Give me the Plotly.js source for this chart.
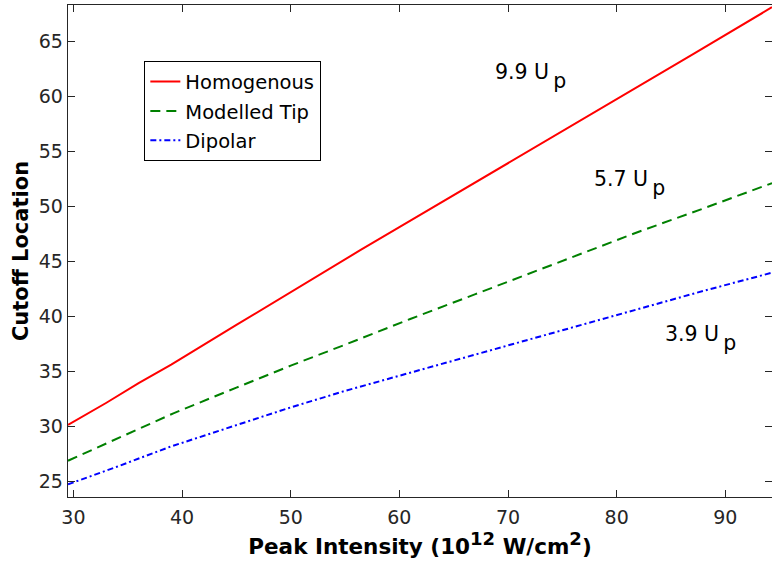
<!DOCTYPE html>
<html>
<head>
<meta charset="utf-8">
<script src="https://cdn.plot.ly/plotly-3.0.1.min.js"></script>
<style>html,body{margin:0;padding:0;background:#fff;}#chart{width:772px;height:567px;}</style>
</head>
<body>
<div id="chart"></div>
<script>
// Data
const homX = [29.5, 33, 36, 39, 45, 50, 56.4, 60, 67.4, 75, 80, 87, 94.3];
const homY = [30.1, 32.1, 33.9, 35.6, 39.2, 42.2, 46.0, 48.1, 52.4, 56.8, 59.7, 63.8, 68.1];
const tipX = [29.5, 35, 39.2, 45, 50, 55, 61, 67, 72, 77, 82.1, 88, 94.3];
const tipY = [26.85, 29.3, 31.16, 33.5, 35.5, 37.4, 39.74, 42.0, 43.9, 45.8, 47.7, 49.8, 52.1];
const dipX = [29.5, 34, 38.9, 45, 50, 55, 61, 67, 72, 77, 82.1, 88, 94.3];
const dipY = [24.7, 26.3, 28.12, 30.1, 31.7, 33.2, 34.85, 36.5, 37.9, 39.3, 40.65, 42.3, 43.95];
const seriesNames = ["Homogenous", "Modelled Tip", "Dipolar"];
const labelMain = ["9.9 U", "5.7 U", "3.9 U"];
const labelSub = ["p", "p", "p"];
const labelX = [68.6, 77.7, 84.3];
const labelY = [61.8, 52.1, 38.0];
const xTicks = [30, 40, 50, 60, 70, 80, 90];
const yTicks = [25, 30, 35, 40, 45, 50, 55, 60, 65];

const FONT = "DejaVu Sans, sans-serif";
const AX = "#262626";

const traces = [
  {x: homX, y: homY, name: seriesNames[0], mode: "lines", legendgroup: "a",
   line: {color: "#ff0000", width: 2}},
  {x: tipX, y: tipY, name: seriesNames[1], mode: "lines", legendgroup: "b",
   line: {color: "#008000", width: 2, dash: "10px,6px"}},
  {x: dipX, y: dipY, name: seriesNames[2], mode: "lines", legendgroup: "c",
   line: {color: "#0000ff", width: 2, dash: "6px,3px,2px,3px"}}
];

const annotations = labelMain.map((t, i) => ({
  x: labelX[i], y: labelY[i], xref: "x", yref: "y",
  text: t + "<span style=\"baseline-shift:-0.42em\">&#8201;" + labelSub[i] + "</span>",
  showarrow: false,
  xanchor: "left", yanchor: "middle", font: {family: FONT, size: 20.5, color: "#000"}
}));

const axisCommon = {
  showline: true, linecolor: AX, linewidth: 1.3, mirror: "ticks",
  ticks: "inside", ticklen: 7, tickwidth: 1, tickcolor: AX,
  showgrid: false, zeroline: false,
  tickfont: {family: FONT, size: 19, color: AX}
};

const layout = {
  width: 772, height: 567,
  margin: {l: 68, r: 0, t: 5, b: 70},
  paper_bgcolor: "#fff", plot_bgcolor: "#fff",
  font: {family: FONT},
  showlegend: true,
  legend: {
    x: 0.108, y: 0.886, xanchor: "left", yanchor: "top",
    bordercolor: "#000", borderwidth: 1.3, bgcolor: "#fff",
    font: {family: FONT, size: 19.5, color: "#000"},
    itemwidth: 30, traceorder: "grouped", tracegroupgap: 1
  },
  xaxis: Object.assign({}, axisCommon, {
    range: [29.5, 94.3], tickvals: xTicks, ticktext: xTicks.map(String),
    ticklabelstandoff: 3,
    title: {text: "<b>Peak Intensity (10<sup><span style=\"font-size:18px\">12</span></sup> W/cm<sup><span style=\"font-size:18px\">2</span></sup>)</b>", standoff: 10,
            font: {family: FONT, size: 21.5, color: "#000"}}
  }),
  yaxis: Object.assign({}, axisCommon, {
    range: [23.55, 68.3], tickvals: yTicks, ticktext: yTicks.map(String),
    ticklabelstandoff: 0,
    title: {text: "<b>Cutoff Location</b>", standoff: 4,
            font: {family: FONT, size: 21, color: "#000"}}
  }),
  annotations: annotations
};

Plotly.newPlot("chart", traces, layout, {displayModeBar: false, staticPlot: true});
</script>
</body>
</html>
